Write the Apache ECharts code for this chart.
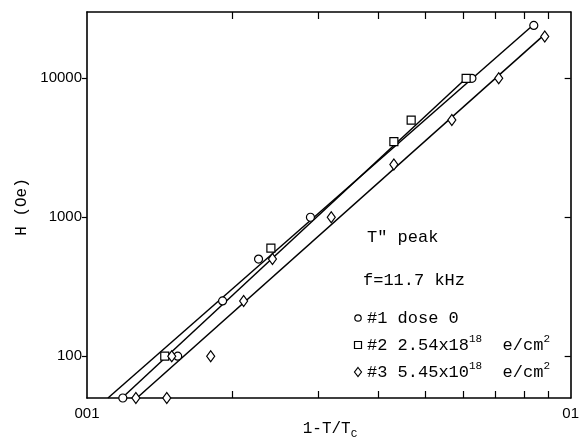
<!DOCTYPE html>
<html><head><meta charset="utf-8">
<script src="https://cdn.jsdelivr.net/npm/echarts@6/dist/echarts.min.js"></script>
<style>html,body{margin:0;padding:0;background:#fff}#c{width:582px;height:440px}</style>
</head><body><div id="c"></div>
<script>
// ---- data ----
const xTickValues = [0.02, 0.03, 0.04, 0.05, 0.06, 0.07, 0.08, 0.09];
const xLabelValues = [0.01, 0.1];
const xLabelText = ['001', '01'];
const yTickValues = [100, 1000, 10000];
const yLabelText = ['100', '1000', '10000'];

// #1 dose 0 (circles)
const series1 = [[0.01186, 50], [0.0154, 100], [0.01907, 250], [0.02263, 500], [0.02897, 1000], [0.0625, 10000], [0.0839, 24000]];
// #2 2.54x18^18 e/cm^2 (squares)
const series2 = [[0.01448, 100], [0.0240, 600], [0.0431, 3500], [0.0468, 5000], [0.0608, 10000]];
// #3 5.45x10^18 e/cm^2 (diamonds)
const series3 = [[0.01262, 50], [0.01462, 50], [0.01497, 100], [0.01802, 100], [0.02108, 250], [0.02418, 500], [0.03199, 1000], [0.0431, 2400], [0.0568, 5000], [0.0710, 10000], [0.0884, 20000]];
// fitted lines
const fit1 = [[0.01105, 50], [0.0831, 23700]];
const fit2 = [[0.01181, 50], [0.0608, 10000]];
const fit3 = [[0.01268, 50], [0.0871, 19800]];

// ---- chart ----
const MONO = '"Liberation Mono", "DejaVu Sans Mono", monospace';
const SANS = '"Liberation Sans", Arial, sans-serif';
const chart = echarts.init(document.getElementById('c'), null, {renderer: 'canvas'});
const ctx = document.createElement('canvas').getContext('2d');
function measure(t, fs) { ctx.font = fs + 'px ' + MONO; return ctx.measureText(t).width; }

function textRow(parts, x, y, fs, supFs) {
  const els = [];
  let cx = x;
  parts.forEach(p => {
    const size = p.sup || p.sub ? supFs : fs;
    const dy = p.sup ? -6 : (p.sub ? 5 : 0);
    els.push({type: 'text', x: cx, y: y + dy, z: 10,
      style: {text: p.t, font: size + 'px ' + MONO, fill: '#000', align: 'left', verticalAlign: 'middle'}});
    cx += measure(p.t, size);
  });
  return els;
}
function rowWidth(parts, fs, supFs) {
  return parts.reduce((s, p) => s + measure(p.t, p.sup || p.sub ? supFs : fs), 0);
}

const FS = 17, SFS = 11;
const graphics = [];
graphics.push(...textRow([{t: 'T" peak'}], 367, 237, FS, SFS));
graphics.push(...textRow([{t: 'f=11.7 kHz'}], 363, 280, FS, SFS));
graphics.push(...textRow([{t: '#1 dose 0'}], 367, 318, FS, SFS));
graphics.push(...textRow([{t: '#2 2.54x18'}, {t: '18', sup: true}, {t: '  e/cm'}, {t: '2', sup: true}], 367, 345, FS, SFS));
graphics.push(...textRow([{t: '#3 5.45x10'}, {t: '18', sup: true}, {t: '  e/cm'}, {t: '2', sup: true}], 367, 372, FS, SFS));
// legend markers
const mk = {fill: '#fff', stroke: '#000', lineWidth: 1.2};
graphics.push({type: 'circle', shape: {cx: 358, cy: 318, r: 3.2}, style: mk, z: 10});
graphics.push({type: 'rect', shape: {x: 354.5, y: 341.5, width: 7, height: 7}, style: mk, z: 10});
graphics.push({type: 'polygon', shape: {points: [[358, 367.5], [361.5, 372], [358, 376.5], [354.5, 372]]}, style: mk, z: 10});
// axis names
const xName = [{t: '1-T/T'}, {t: 'C', sub: true}];
const xw = rowWidth(xName, 16, 11);
graphics.push(...textRow(xName, 330 - xw / 2, 429, 16, 11));
graphics.push({type: 'text', x: 22, y: 207, rotation: Math.PI / 2, z: 10,
  style: {text: 'H (Oe)', font: '16px ' + MONO, fill: '#000', align: 'center', verticalAlign: 'middle'}});

function logIdx(arr, v) { return arr.findIndex(a => Math.abs(Math.log10(a) - Math.log10(v)) < 1e-6); }

const axLine = {show: true, lineStyle: {color: '#000', width: 1.6}};
const tickStyle = {color: '#000', width: 1.2};

const option = {
  animation: false,
  backgroundColor: '#fff',
  grid: {left: 87, right: 9, top: 12, bottom: 42},
  xAxis: [
    {type: 'log', logBase: 10, min: 0.01, max: 0.1, position: 'bottom',
      axisLine: axLine, splitLine: {show: false}, minorTick: {show: false},
      axisTick: {show: true, inside: true, length: 7, customValues: xTickValues, lineStyle: tickStyle},
      axisLabel: {show: true, customValues: xLabelValues, margin: 8, color: '#000', fontFamily: SANS, fontSize: 15,
        formatter: v => { const i = logIdx(xLabelValues, v); return i >= 0 ? xLabelText[i] : ''; }}},
    {type: 'log', logBase: 10, min: 0.01, max: 0.1, position: 'top',
      axisLine: axLine, splitLine: {show: false},
      axisTick: {show: true, inside: true, length: 7, customValues: xTickValues, lineStyle: tickStyle},
      axisLabel: {show: false}}
  ],
  yAxis: [
    {type: 'log', logBase: 10, min: 50, max: 30000, position: 'left',
      axisLine: axLine, splitLine: {show: false},
      axisTick: {show: true, inside: false, length: 5, customValues: yTickValues, lineStyle: tickStyle},
      axisLabel: {show: true, customValues: yTickValues, margin: 5, color: '#000', fontFamily: SANS, fontSize: 15,
        formatter: v => { const i = logIdx(yTickValues, v); return i >= 0 ? yLabelText[i] : ''; }}},
    {type: 'log', logBase: 10, min: 50, max: 30000, position: 'right',
      axisLine: axLine, splitLine: {show: false},
      axisTick: {show: true, inside: true, length: 6, customValues: yTickValues, lineStyle: tickStyle},
      axisLabel: {show: false}}
  ],
  series: [
    {type: 'line', data: fit1, symbol: 'none', lineStyle: {color: '#000', width: 1.5}, z: 2},
    {type: 'line', data: fit2, symbol: 'none', lineStyle: {color: '#000', width: 1.5}, z: 2},
    {type: 'line', data: fit3, symbol: 'none', lineStyle: {color: '#000', width: 1.5}, z: 2},
    {type: 'scatter', data: series1, symbol: 'circle', symbolSize: 8,
      itemStyle: {color: '#fff', borderColor: '#000', borderWidth: 1.2, opacity: 1}, z: 5},
    {type: 'scatter', data: series2, symbol: 'rect', symbolSize: 8,
      itemStyle: {color: '#fff', borderColor: '#000', borderWidth: 1.2, opacity: 1}, z: 5},
    {type: 'scatter', data: series3, symbol: 'diamond', symbolSize: [8, 11],
      itemStyle: {color: '#fff', borderColor: '#000', borderWidth: 1.2, opacity: 1}, z: 5}
  ],
  graphic: graphics
};
chart.setOption(option);
</script>
</body></html>
